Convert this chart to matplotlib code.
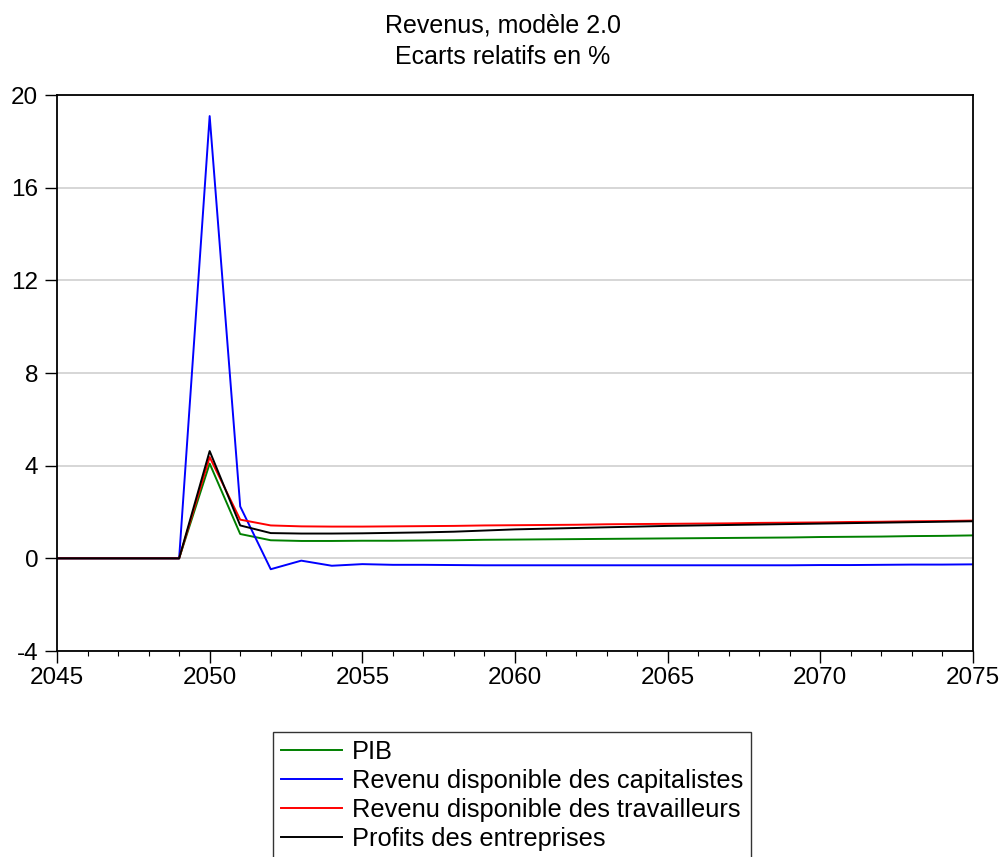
import matplotlib
matplotlib.use("Agg")
import matplotlib.pyplot as plt
from matplotlib.ticker import MultipleLocator

years = list(range(2045, 2076))

pib = [0, 0, 0, 0, 0, 4.09, 1.05, 0.78, 0.75, 0.75, 0.76, 0.76, 0.77, 0.78, 0.80, 0.81,
       0.82, 0.83, 0.84, 0.85, 0.86, 0.87, 0.88, 0.89, 0.90, 0.92, 0.93, 0.94, 0.96, 0.97, 0.99]
rev_cap = [0, 0, 0, 0, 0, 19.09, 2.24, -0.47, -0.10, -0.32, -0.25, -0.28, -0.28, -0.29, -0.30, -0.30,
           -0.30, -0.30, -0.30, -0.30, -0.30, -0.30, -0.30, -0.30, -0.30, -0.29, -0.29, -0.28, -0.27, -0.27, -0.26]
rev_trav = [0, 0, 0, 0, 0, 4.37, 1.67, 1.42, 1.38, 1.37, 1.37, 1.38, 1.39, 1.40, 1.42, 1.43,
            1.44, 1.45, 1.47, 1.48, 1.49, 1.50, 1.51, 1.53, 1.54, 1.55, 1.57, 1.58, 1.60, 1.61, 1.63]
profits = [0, 0, 0, 0, 0, 4.63, 1.42, 1.09, 1.07, 1.07, 1.08, 1.10, 1.12, 1.15, 1.20, 1.25,
           1.28, 1.31, 1.34, 1.37, 1.40, 1.42, 1.44, 1.46, 1.48, 1.50, 1.52, 1.54, 1.56, 1.58, 1.60]

labels = ["PIB", "Revenu disponible des capitalistes",
          "Revenu disponible des travailleurs", "Profits des entreprises"]
colors = ["#008000", "#0000ff", "#ff0000", "#000000"]
title1 = "Revenus, modèle 2.0"
title2 = "Ecarts relatifs en %"
yticks = [-4, 0, 4, 8, 12, 16, 20]
xticks = [2045, 2050, 2055, 2060, 2065, 2070, 2075]

plt.rcParams['font.family'] = ['Liberation Sans', 'DejaVu Sans']
plt.rcParams['axes.unicode_minus'] = False

fig = plt.figure(figsize=(10.05, 8.57), dpi=100)
ax = fig.add_axes([57/1005, 1 - 651/857, (973-57)/1005, (651-95)/857])

for s, lab, c in zip([pib, rev_cap, rev_trav, profits], labels, colors):
    ax.plot(years, s, color=c, lw=1.4, label=lab)

ax.set_xlim(2045, 2075)
ax.set_ylim(-4, 20)
ax.set_yticks(yticks)
ax.set_xticks(xticks)
ax.xaxis.set_minor_locator(MultipleLocator(1))
ax.grid(axis='y', color='#d3d3d3', lw=1.3)
ax.set_axisbelow(True)
ax.tick_params(axis='both', which='major', labelsize=17.5, direction='out', length=8.5, width=1, color='black')
ax.tick_params(axis='x', which='minor', direction='out', length=3.5, width=0.8)
ax.tick_params(axis='x', which='major', pad=3)
ax.tick_params(axis='y', which='major', pad=5)
for sp in ax.spines.values():
    sp.set_linewidth(1.3)

fig.text(0.5, 1 - 32/857, title1, ha='center', va='baseline', fontsize=18)
fig.text(0.5, 1 - 64/857, title2, ha='center', va='baseline', fontsize=18)

leg = fig.legend(loc='upper left', bbox_to_anchor=(273/1005, 1 - 732/857),
                 fontsize=18.3, frameon=True, fancybox=False, edgecolor='black',
                 handlelength=2.4, handletextpad=0.4, labelspacing=0.2, borderpad=0.3,
                 borderaxespad=0)
leg.get_frame().set_linewidth(1.0)

fig.savefig("out.png", dpi=100)
